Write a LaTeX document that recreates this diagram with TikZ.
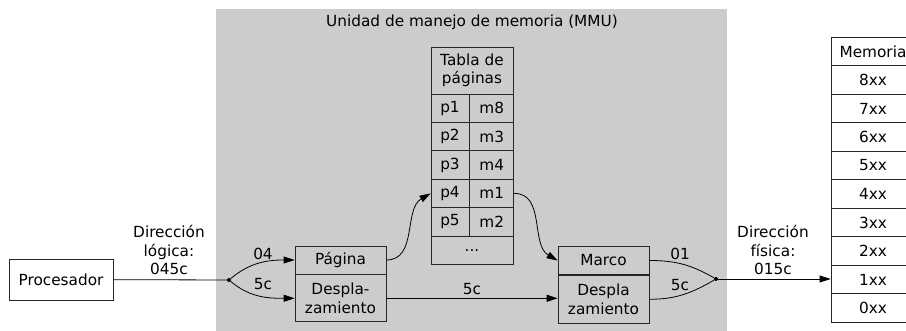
\documentclass[tikz,border=0pt]{standalone}
\usepackage{fontspec}
\setmainfont{DejaVu Sans}
\usetikzlibrary{arrows.meta, positioning, calc}
\definecolor{mmugray}{RGB}{204,204,204}

\begin{document}
\begin{tikzpicture}[x=1pt, y=-1pt,
  every node/.style={font=\fontsize{15.3}{18.5}\selectfont},
  cell/.style={draw=black!85, line width=0.8pt, inner sep=0pt, align=center, minimum height=28.5pt},
  conn/.style={line width=0.8pt, -{Triangle[length=11pt, width=7pt]}},
  wire/.style={line width=0.8pt},
  dot/.style={circle, fill=black, inner sep=0pt, minimum size=4pt},
  lbl/.style={align=center, inner sep=0pt}
]
  \useasboundingbox (0,0) rectangle (906,331);
  \fill[mmugray] (216,9) rectangle (727,331);
  \node[lbl] (mmutitle) at (472,22) {Unidad de manejo de memoria (MMU)};

  % procesador
  \node[cell, fill=white, minimum width=104pt, minimum height=41pt] (proc) at (61,279.5) {Procesador};
  \node[lbl] (lblLog) at (169,250) {Dirección\\lógica:\\045c};

  % direccion logica
  \node[cell, minimum width=91pt, minimum height=28pt] (pag) at (340.5,260) {Página};
  \node[cell, minimum width=91pt, minimum height=47pt, below=0pt of pag] (desp) {Despla-\\zamiento};

  % tabla de paginas
  \node[cell, minimum width=82pt, minimum height=47pt] (tabhdr) at (472,70.5) {Tabla de\\páginas};
  \foreach \p/\m [count=\i] in {p1/m8,p2/m3,p3/m4,p4/m1,p5/m2} {
    \node[cell, minimum width=38pt] (pg\i) at (450,79.8+28.4*\i) {\p};
    \node[cell, minimum width=44pt, right=0pt of pg\i] (mc\i) {\m};
  }
  \node[cell, minimum width=82pt] (tabmore) at (472,250.2) {...};

  % direccion fisica
  \node[cell, minimum width=91pt, minimum height=28pt] (marco) at (603.5,260.5) {Marco};
  \node[cell, minimum width=91pt, minimum height=48pt, below=0pt of marco] (despla) {Despla\\zamiento};
  \node[lbl] (lblFis) at (773,250) {Dirección\\física:\\015c};

  % memoria
  \node[cell, fill=white, minimum width=84pt] (memhdr) at (873,51.5) {Memoria};
  \foreach \k [count=\j] in {8,7,...,0}
    \node[cell, fill=white, minimum width=84pt] (mem\k) at (873,51.5+28.5*\j) {\k xx};

  \node[dot] (splitL) at (229,280) {};
  \node[dot] (joinR) at (716,279) {};

  \draw[wire] (proc) -- (splitL);
  \draw[conn] (splitL) to[out=40, in=180] (pag.west);
  \draw[conn] (splitL) to[out=-40, in=180] (desp.west);
  \node[lbl] (lbl04) at (263,254) {04};
  \node[lbl] (lbl5cL) at (263,284) {5c};

  \draw[conn] (pag.east) to[out=0, in=210] (pg4.west);
  \draw[conn] (mc4.east) to[out=0, in=150] (marco.west);
  \draw[conn] (desp.east) -- (desp.east -| despla.west);
  \node[lbl] (lbl5cM) at (472,289) {5c};

  \draw[wire] (marco.east) to[out=0, in=150] (joinR);
  \draw[wire] (despla.east) to[out=0, in=210] (joinR);
  \node[lbl] (lbl01) at (680,254) {01};
  \node[lbl] (lbl5cR) at (680,285) {5c};
  \draw[conn] (joinR) -- (joinR -| mem1.west);
\end{tikzpicture}
\end{document}
